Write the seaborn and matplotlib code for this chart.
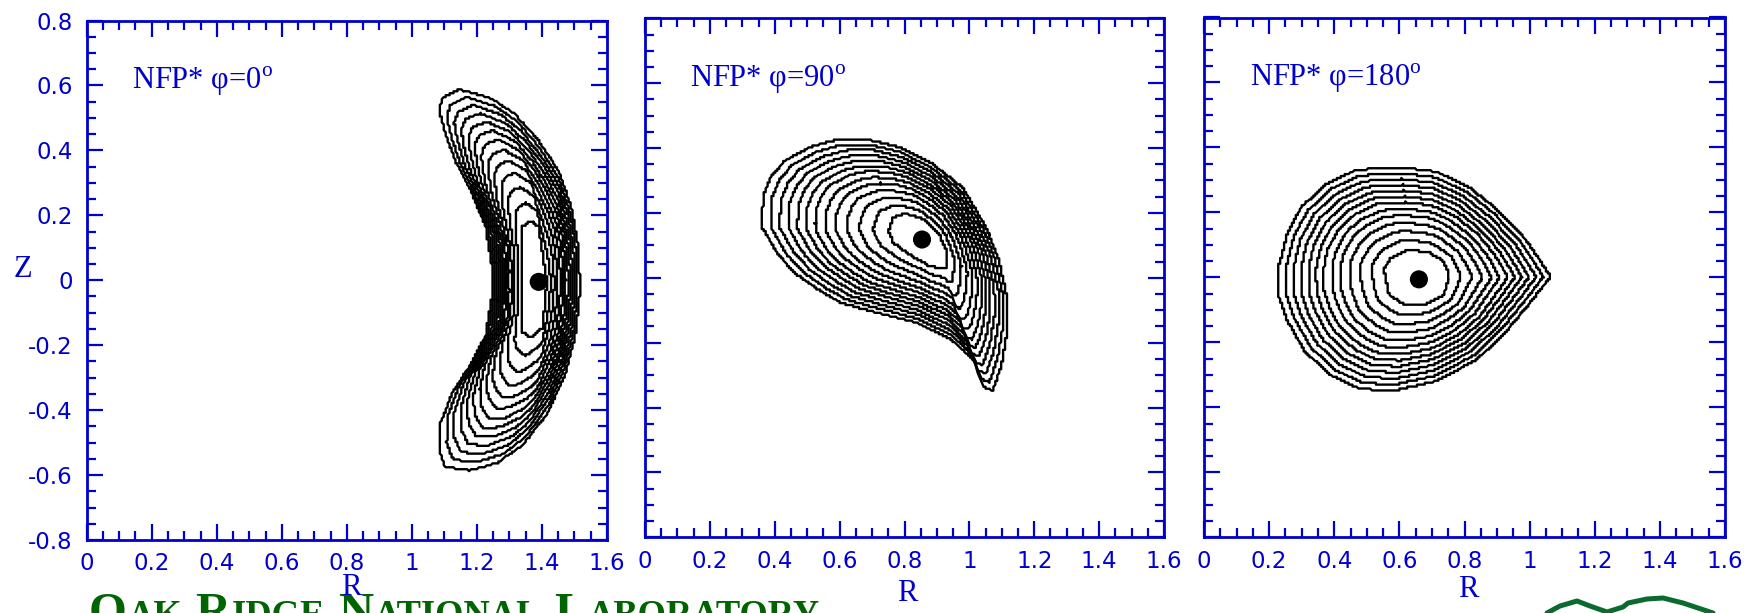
import numpy as np
import pandas as pd
import matplotlib
matplotlib.use("Agg")
import matplotlib.pyplot as plt
from matplotlib.ticker import FixedLocator, FixedFormatter, MultipleLocator
from matplotlib.transforms import IdentityTransform
import seaborn as sns

# ---------------- data ----------------
panel_titles = ["NFP* φ=0", "NFP* φ=90", "NFP* φ=180"]

r_ticks = [0, 0.2, 0.4, 0.6, 0.8, 1.0, 1.2, 1.4, 1.6]
r_tick_labels = ["0", "0.2", "0.4", "0.6", "0.8", "1", "1.2", "1.4", "1.6"]
z_ticks = [-0.8, -0.6, -0.4, -0.2, 0, 0.2, 0.4, 0.6, 0.8]
z_tick_labels = ["-0.8", "-0.6", "-0.4", "-0.2", "0", "0.2", "0.4", "0.6", "0.8"]

# normalized flux-surface label of each drawn contour (0 = innermost, 1 = boundary)
surface_levels = [0.0, 0.12, 0.23, 0.33, 0.42, 0.50, 0.58, 0.65, 0.72, 0.79, 0.86, 0.93, 1.0]

# phi = 0 cross-section
axis0 = (1.39, -0.005)
lcfs0_R = [1.515, 1.515, 1.509, 1.490, 1.452, 1.390, 1.315, 1.239, 1.146, 1.095, 1.083,
           1.102, 1.133, 1.177, 1.227, 1.246, 1.246, 1.227, 1.177, 1.127, 1.089, 1.083,
           1.102, 1.177, 1.264, 1.340, 1.415, 1.471, 1.502]
lcfs0_Z = [-0.051, 0.021, 0.117, 0.225, 0.334, 0.430, 0.514, 0.562, 0.588, 0.562, 0.526,
           0.454, 0.370, 0.285, 0.165, 0.045, -0.051, -0.171, -0.267, -0.340, -0.436, -0.520,
           -0.574, -0.586, -0.562, -0.508, -0.412, -0.291, -0.171]
core0_R = [1.415, 1.402, 1.390, 1.365, 1.340, 1.337, 1.340, 1.365, 1.402, 1.408]
core0_Z = [-0.003, 0.081, 0.165, 0.183, 0.165, -0.003, -0.159, -0.177, -0.147, -0.087]

# phi = 90 cross-section
axis90 = (0.854, 0.118)
lcfs90_R = [1.116, 1.089, 1.051, 0.980, 0.881, 0.782, 0.684, 0.596, 0.509, 0.432, 0.389,
            0.364, 0.361, 0.410, 0.465, 0.542, 0.607, 0.717, 0.837, 0.947, 1.012, 1.045,
            1.072, 1.100, 1.116]
lcfs90_Z = [-0.060, 0.060, 0.156, 0.277, 0.355, 0.403, 0.427, 0.427, 0.403, 0.361, 0.313,
            0.253, 0.156, 0.072, 0.012, -0.042, -0.078, -0.108, -0.138, -0.192, -0.253, -0.337,
            -0.349, -0.265, -0.168]
core90_R = [0.933, 0.908, 0.859, 0.804, 0.766, 0.750, 0.766, 0.815, 0.881, 0.927]
core90_Z = [0.078, 0.132, 0.180, 0.198, 0.186, 0.144, 0.108, 0.072, 0.034, 0.030]

# phi = 180 cross-section
axis180 = (0.660, -0.006)
lcfs180_R = [1.064, 0.995, 0.905, 0.815, 0.714, 0.602, 0.468, 0.378, 0.299, 0.255, 0.230,
             0.230, 0.255, 0.311, 0.389, 0.479, 0.580, 0.714, 0.838, 0.927, 1.006]
lcfs180_Z = [0.002, 0.108, 0.205, 0.277, 0.325, 0.339, 0.331, 0.289, 0.217, 0.132, 0.036,
             -0.060, -0.132, -0.229, -0.301, -0.343, -0.349, -0.319, -0.253, -0.168, -0.072]
core180_R = [0.753, 0.737, 0.691, 0.624, 0.574, 0.552, 0.568, 0.613, 0.681, 0.737]
core180_Z = [0.006, 0.048, 0.078, 0.084, 0.060, 0.024, -0.054, -0.082, -0.082, -0.054]

# ORNL logo outline strip (figure pixels) and banner pieces
logo_x = [1547, 1560, 1577, 1590, 1607, 1623, 1628, 1647, 1663, 1683, 1713]
logo_y = [613, 606, 601, 606, 612, 607, 603, 599, 598, 603, 613]
banner_pieces = [("O", True), ("AK", False), (" ", True), ("R", True), ("IDGE", False),
                 (" ", True), ("N", True), ("ATIONAL", False), (" ", True), ("L", True),
                 ("ABORATORY", False)]

sections = [
    (axis0, lcfs0_R, lcfs0_Z, core0_R, core0_Z),
    (axis90, lcfs90_R, lcfs90_Z, core90_R, core90_Z),
    (axis180, lcfs180_R, lcfs180_Z, core180_R, core180_Z),
]

# interpolation frames: the bean-shaped section is straightened around its
# centre of curvature (R_c, radius) before the surfaces are nested
frames = [(0.534, 0.846), None, None]
nest_centres = [axis0, (0.88, 0.13), axis180]


# ---------------- geometry helpers ----------------
def to_frame(R, Z, bend):
    if bend is None:
        return np.asarray(R, float), np.asarray(Z, float)
    rc, rho = bend
    R = np.asarray(R, float) - rc
    Z = np.asarray(Z, float)
    return rho * np.arctan2(Z, R), np.hypot(R, Z)


def from_frame(u, v, bend):
    if bend is None:
        return u, v
    rc, rho = bend
    a = u / rho
    return rc + v * np.cos(a), v * np.sin(a)


def densify(x, y, n=40):
    x = np.append(x, x[0])
    y = np.append(y, y[0])
    t = np.linspace(0, 1, n, endpoint=False)
    xs = (x[:-1, None] + (x[1:] - x[:-1])[:, None] * t).ravel()
    ys = (y[:-1, None] + (y[1:] - y[:-1])[:, None] * t).ravel()
    return xs, ys


def polar_profile(u, v, cu, cv, theta):
    ang = np.mod(np.arctan2(v - cv, u - cu), 2 * np.pi)
    rad = np.hypot(u - cu, v - cv)
    return np.interp(theta, ang, rad, period=2 * np.pi)


GRID = 0.006  # raster spacing of the equilibrium solver output
theta = np.linspace(0, 2 * np.pi, 1441)
rows = []
for k, (ax0, bR, bZ, cR, cZ) in enumerate(sections):
    bend = frames[k]
    cu, cv = to_frame([nest_centres[k][0]], [nest_centres[k][1]], bend)
    cu, cv = cu[0], cv[0]
    ou, ov = to_frame(*densify(bR, bZ), bend)
    iu, iv = to_frame(*densify(cR, cZ), bend)
    r_out = polar_profile(ou, ov, cu, cv, theta)
    r_in = polar_profile(iu, iv, cu, cv, theta)
    for j, s in enumerate(surface_levels):
        r = r_in + s * (r_out - r_in)
        R, Z = from_frame(cu + r * np.cos(theta), cv + r * np.sin(theta), bend)
        R = np.round(R / GRID) * GRID
        Z = np.round(Z / GRID) * GRID
        rows.append(pd.DataFrame({"panel": k, "surface": j, "R": R, "Z": Z}))
surfaces = pd.concat(rows, ignore_index=True)
axes_df = pd.DataFrame({"panel": [0, 1, 2],
                        "R": [s[0][0] for s in sections],
                        "Z": [s[0][1] for s in sections]})

# ---------------- figure ----------------
sns.set_style("ticks")
plt.rcParams["font.family"] = ["DejaVu Sans"]
plt.rcParams["mathtext.fontset"] = "custom"
plt.rcParams["mathtext.rm"] = "Liberation Serif"

BLUE = "#0000CD"
SERIF = "Liberation Serif"

fig = plt.figure(figsize=(17.54, 6.13), dpi=100)
fig.patch.set_facecolor("white")

rects = [
    [86.7 / 1754, 1 - 540.0 / 613, 520.3 / 1754, 519.5 / 613],
    [645.0 / 1754, 1 - 537.3 / 613, 519.0 / 1754, 519.0 / 613],
    [1204.0 / 1754, 1 - 537.3 / 613, 521.0 / 1754, 519.8 / 613],
]
rlabel_pos = [(0.508, -0.092), (0.506, -0.109), (0.507, -0.101)]

for k, rect in enumerate(rects):
    ax = fig.add_axes(rect)
    ax.set_facecolor("white")
    sub = surfaces[surfaces["panel"] == k]
    sns.lineplot(data=sub, x="R", y="Z", units="surface", estimator=None, sort=False,
                 color="black", linewidth=1.7, ax=ax, legend=False)
    sns.scatterplot(data=axes_df[axes_df["panel"] == k], x="R", y="Z", color="black",
                    s=170, edgecolor="none", ax=ax, legend=False, zorder=5)

    ax.set_xlim(0, 1.6)
    ax.set_ylim(-0.8, 0.8)
    ax.xaxis.set_major_locator(FixedLocator(r_ticks))
    ax.xaxis.set_major_formatter(FixedFormatter(r_tick_labels))
    ax.yaxis.set_major_locator(FixedLocator(z_ticks))
    ax.yaxis.set_major_formatter(FixedFormatter(z_tick_labels))
    ax.xaxis.set_minor_locator(MultipleLocator(0.05))
    ax.yaxis.set_minor_locator(MultipleLocator(0.05))
    ax.tick_params(which="both", direction="in", top=True, right=True,
                   color=BLUE, width=1.6, labelcolor=BLUE, labelsize=16.5)
    ax.tick_params(which="major", length=11.5)
    ax.tick_params(which="minor", length=6.5)
    ax.tick_params(axis="x", pad=9)
    ax.tick_params(axis="y", pad=10)
    if k > 0:
        ax.tick_params(axis="y", labelleft=False)
    for sp in ax.spines.values():
        sp.set_color(BLUE)
        sp.set_linewidth(2.0)
        sp.set_visible(True)

    ax.set_xlabel("R", family=SERIF, fontsize=22, color=BLUE, va="center")
    ax.xaxis.set_label_coords(*rlabel_pos[k])
    if k == 0:
        ax.set_ylabel("Z", family=SERIF, fontsize=22, color=BLUE, rotation=0,
                      va="center", ha="center")
        ax.yaxis.set_label_coords(-0.1236, 0.5207)
    else:
        ax.set_ylabel("")

    ax.text(0.14, 0.588, panel_titles[k] + r"$^{\mathrm{o}}$", family=SERIF,
            fontsize=22, color=BLUE, ha="left", va="baseline")

# logo strip along the bottom right corner
overlay = fig.add_axes([0, 0, 1, 1], zorder=-2)
overlay.set_xlim(0, 1754)
overlay.set_ylim(613, 0)
overlay.axis("off")
overlay.plot(logo_x, logo_y, color="#0b6b2e", linewidth=3.6, solid_capstyle="round",
             solid_joinstyle="round")

# laboratory banner in small capitals
renderer = fig.canvas.get_renderer()
x = 89.0
big, small = 35, 26.3
for piece, is_big in banner_pieces:
    size = big if is_big else small
    if piece.strip() == "":
        x += 0.25 * big * 100 / 72
        continue
    t = fig.text(x, -13, piece, transform=IdentityTransform(), family=SERIF,
                 fontweight="bold", fontsize=size, color="#006400", ha="left",
                 va="baseline", zorder=-1)
    x += t.get_window_extent(renderer).width + 0.02 * size * 100 / 72

fig.savefig("out.png", dpi=100, facecolor="white")
